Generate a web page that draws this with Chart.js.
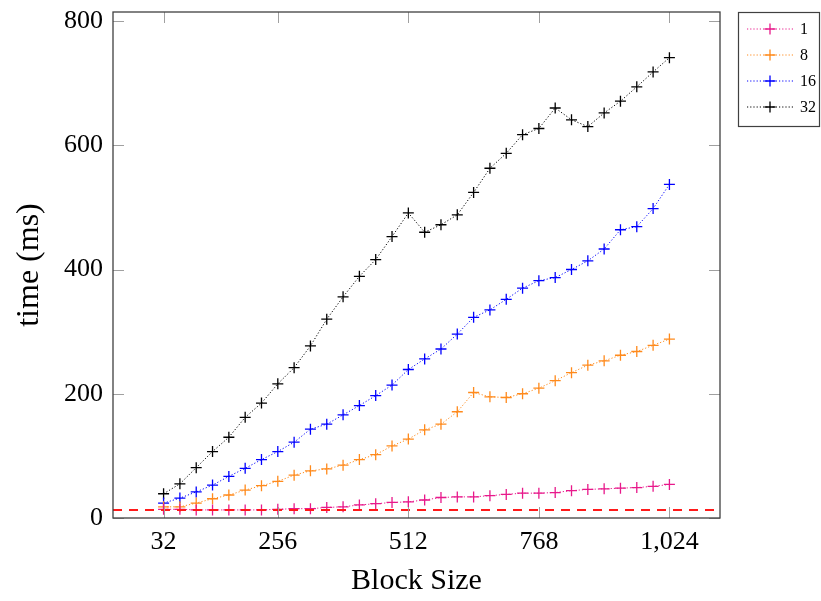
<!DOCTYPE html>
<html>
<head>
<meta charset="utf-8">
<script src="https://cdn.jsdelivr.net/npm/chart.js@4.4.1/dist/chart.umd.min.js"></script>
<style>
  body { margin: 0; background: #fff; }
</style>
</head>
<body>
<canvas id="timeChart" width="821" height="601"></canvas>
<script>
// data
const blockSizes = [32, 64, 96, 128, 160, 192, 224, 256, 288, 320, 352, 384, 416, 448, 480, 512,
                    544, 576, 608, 640, 672, 704, 736, 768, 800, 832, 864, 896, 928, 960, 992, 1024];
const xTicks = [32, 256, 512, 768, 1024];
const yTicks = [0, 200, 400, 600, 800];

const seriesNames = ['1', '8', '16', '32'];
const time1 = [14, 14, 13, 13, 13, 13, 13, 14, 15, 15, 17, 18, 21, 23, 25, 26,
               29, 33, 34, 34, 36, 38, 40, 40, 41, 44, 46, 47, 48, 49, 51, 54];
const time8 = [18, 18, 24, 31, 37, 45, 52, 59, 69, 76, 79, 85, 94, 102, 116, 127,
               142, 151, 171, 202, 195, 194, 200, 209, 221, 234, 246, 253, 262, 268, 278, 288];
const time16 = [24, 32, 42, 53, 67, 80, 94, 107, 122, 143, 151, 166, 181, 197, 214, 239,
                256, 272, 296, 323, 335, 352, 370, 382, 387, 400, 414, 433, 464, 469, 498, 537];
const time32 = [39, 55, 81, 107, 130, 162, 185, 216, 242, 277, 320, 356, 389, 416, 453, 491,
                460, 472, 488, 524, 563, 587, 617, 627, 660, 641, 630, 652, 671, 694, 718, 741];
const threshold = 13;

const colors = ['#e8198b', '#ff8a1c', '#0000ff', '#000000'];
const serif = "'Liberation Serif', 'DejaVu Serif', serif";

const allSeries = [time1, time8, time16, time32];
const datasets = allSeries.map((vals, i) => ({
  label: seriesNames[i],
  data: blockSizes.map((b, j) => ({ x: b, y: vals[j] })),
  borderColor: colors[i],
  backgroundColor: colors[i],
  borderWidth: 1,
  borderDash: [1.2, 2],
  pointStyle: 'cross',
  pointRadius: 5.5,
  pointBorderWidth: 1.3,
  tension: 0
}));

// frame, inner ticks, threshold line and boxed legend like pgfplots
const decorations = {
  id: 'decorations',
  afterDatasetsDraw(chart) {
    const { ctx, chartArea: a, scales: { x, y } } = chart;
    ctx.save();

    // threshold
    const ty = y.getPixelForValue(threshold);
    ctx.strokeStyle = '#ff1a1a';
    ctx.lineWidth = 2;
    ctx.setLineDash([9, 7]);
    ctx.beginPath();
    ctx.moveTo(a.left, ty);
    ctx.lineTo(a.right, ty);
    ctx.stroke();
    ctx.setLineDash([]);

    // tick marks on all four sides
    const tl = 11;
    ctx.strokeStyle = '#a0a0a0';
    ctx.lineWidth = 1;
    ctx.beginPath();
    xTicks.forEach(v => {
      const px = Math.round(x.getPixelForValue(v)) + 0.5;
      ctx.moveTo(px, a.bottom); ctx.lineTo(px, a.bottom - tl);
      ctx.moveTo(px, a.top); ctx.lineTo(px, a.top + tl);
    });
    yTicks.forEach(v => {
      const py = Math.round(y.getPixelForValue(v)) + 0.5;
      ctx.moveTo(a.left, py); ctx.lineTo(a.left + tl, py);
      ctx.moveTo(a.right, py); ctx.lineTo(a.right - tl, py);
    });
    ctx.stroke();

    // axis box
    ctx.strokeStyle = '#404040';
    ctx.lineWidth = 1.3;
    ctx.strokeRect(a.left, a.top, a.right - a.left, a.bottom - a.top);

    // legend
    const lx = 738.5, ly = 12.5, lw = 81, lh = 114;
    ctx.fillStyle = '#fff';
    ctx.fillRect(lx, ly, lw, lh);
    ctx.strokeStyle = '#404040';
    ctx.lineWidth = 1.2;
    ctx.strokeRect(lx, ly, lw, lh);
    ctx.font = '16px ' + serif;
    ctx.textBaseline = 'middle';
    chart.data.datasets.forEach((ds, i) => {
      const cy = 29 + i * 26;
      ctx.strokeStyle = ds.borderColor;
      ctx.lineWidth = 1;
      ctx.setLineDash([1.2, 2]);
      ctx.beginPath();
      ctx.moveTo(747, cy); ctx.lineTo(793, cy);
      ctx.stroke();
      ctx.setLineDash([]);
      ctx.lineWidth = 1.3;
      ctx.beginPath();
      ctx.moveTo(764.5, cy); ctx.lineTo(775.5, cy);
      ctx.moveTo(770, cy - 5.5); ctx.lineTo(770, cy + 5.5);
      ctx.stroke();
      ctx.fillStyle = '#000';
      ctx.fillText(ds.label, 800, cy + 1);
    });
    ctx.restore();
  }
};

new Chart(document.getElementById('timeChart'), {
  type: 'line',
  data: { datasets },
  options: {
    responsive: false,
    animation: false,
    layout: { padding: { top: 12, right: 101, left: 0, bottom: 0 } },
    plugins: {
      legend: { display: false },
      tooltip: { enabled: false }
    },
    scales: {
      x: {
        type: 'linear',
        min: -67.2,
        max: 1123.2,
        afterBuildTicks: s => { s.ticks = xTicks.map(v => ({ value: v })); },
        afterFit: s => { s.height = 83; s.paddingLeft = 0; s.paddingRight = 0; },
        grid: { display: false, drawTicks: false },
        border: { display: false },
        ticks: {
          padding: 9,
          color: '#000',
          maxRotation: 0,
          autoSkip: false,
          font: { family: serif, size: 26 },
          callback: v => v.toLocaleString('en-US')
        },
        title: {
          display: true,
          text: 'Block Size',
          color: '#000',
          font: { family: serif, size: 30 },
          padding: { top: 0, bottom: 2 }
        }
      },
      y: {
        min: 0,
        max: 814.5,
        afterBuildTicks: s => { s.ticks = yTicks.map(v => ({ value: v })); },
        afterFit: s => { s.width = 113; s.paddingTop = 0; s.paddingBottom = 0; },
        grid: { display: false, drawTicks: false },
        border: { display: false },
        ticks: {
          padding: 10,
          color: '#000',
          font: { family: serif, size: 26 }
        },
        title: {
          display: true,
          text: 'time (ms)',
          color: '#000',
          font: { family: serif, size: 32 },
          padding: { top: 10, bottom: 0 }
        }
      }
    }
  },
  plugins: [decorations]
});
</script>
</body>
</html>
